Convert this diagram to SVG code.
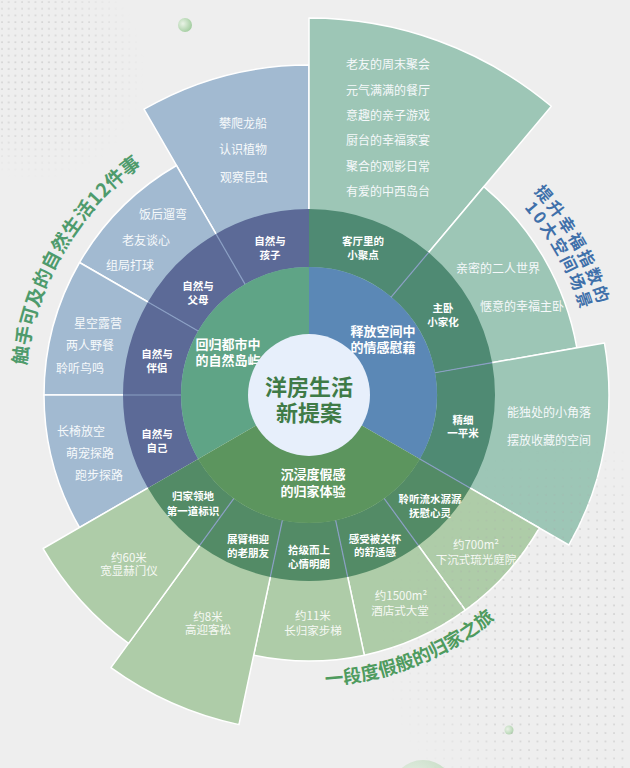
<svg xmlns="http://www.w3.org/2000/svg" width="630" height="768" viewBox="0 0 630 768">
<defs>
<style>
text{font-family:"Noto Sans CJK SC","Noto Sans",sans-serif;}
.o{font-size:12px;fill:#f6f9fb;text-anchor:middle;dominant-baseline:central;}
.ob{font-size:11.5px;fill:#f6f9f4;text-anchor:middle;dominant-baseline:central;}
.r{font-size:10.5px;font-weight:700;fill:#ffffff;text-anchor:middle;dominant-baseline:central;}
.i{font-size:13px;font-weight:700;fill:#ffffff;text-anchor:middle;dominant-baseline:central;}
.c{font-size:22px;font-weight:700;fill:#3f7b47;text-anchor:middle;dominant-baseline:central;}
.tt{font-weight:700;text-anchor:middle;}
.seg-n{fill:#a2bad1;stroke:#ffffff;stroke-width:1.5;stroke-linejoin:round;}
.seg-b{fill:#9dc6b6;stroke:#ffffff;stroke-width:1.5;stroke-linejoin:round;}
.seg-g{fill:#aecca8;stroke:#ffffff;stroke-width:1.5;stroke-linejoin:round;}
.ring-n{fill:#5c6a97;}
.ring-b{fill:#4f8a73;}
.ring-g{fill:#538b66;}
.sep{stroke:#8a9fc4;stroke-width:1.2;fill:none;}
</style>
<pattern id="dots1" width="6.7" height="6.7" patternUnits="userSpaceOnUse"><circle cx="2" cy="2" r="0.8" fill="#c4c4c4"/></pattern>
<pattern id="dots2" width="8.5" height="8.5" patternUnits="userSpaceOnUse"><circle cx="2" cy="2" r="0.9" fill="#a8a8a8"/></pattern>
<radialGradient id="fade1" cx="35" cy="70" r="110" gradientUnits="userSpaceOnUse"><stop offset="0" stop-color="#fff"/><stop offset="0.6" stop-color="#fff" stop-opacity="0.8"/><stop offset="1" stop-color="#fff" stop-opacity="0"/></radialGradient>
<radialGradient id="fade2" cx="580" cy="640" r="200" gradientUnits="userSpaceOnUse"><stop offset="0" stop-color="#fff"/><stop offset="0.6" stop-color="#fff" stop-opacity="0.8"/><stop offset="1" stop-color="#fff" stop-opacity="0"/></radialGradient>
<mask id="m1"><rect x="0" y="0" width="160" height="200" fill="url(#fade1)"/></mask>
<mask id="m2"><rect x="380" y="380" width="250" height="388" fill="url(#fade2)"/></mask>
<radialGradient id="ball" cx="0.35" cy="0.4" r="0.7"><stop offset="0" stop-color="#e9f3e6"/><stop offset="1" stop-color="#9fcb9c"/></radialGradient>
<path id="arcL" d="M26.08,419.76 A284,284 0 0 1 188.98,137.61"/>
<path id="arcR1" d="M484.53,148.02 A303,303 0 0 1 611.03,370.7"/>
<path id="arcR2" d="M476.52,164.43 A285,285 0 0 1 593.32,375.11"/>
<path id="arcB" d="M265.99,682.8 A291,291 0 0 0 536.74,576.15"/>
</defs>

<rect width="630" height="768" fill="#eeeeee"/>
<rect x="0" y="0" width="160" height="200" fill="url(#dots1)" mask="url(#m1)"/>
<circle cx="185" cy="25" r="7" fill="url(#ball)"/>
<circle cx="509" cy="730" r="4.5" fill="url(#ball)" opacity="0.8"/>
<circle cx="423" cy="792" r="32" fill="url(#ball)" opacity="0.55"/>

<!-- outer ring -->
<g id="out-kids"><path class="seg-n" d="M309,395 L144,109.21 A330,330 0 0 1 309,65 Z"/>
<text class="o" x="243" y="122">攀爬龙船</text><text class="o" x="243" y="148">认识植物</text><text class="o" x="244" y="176">观察昆虫</text></g>
<g id="out-parents"><path class="seg-n" d="M309,395 L79.51,262.5 A265,265 0 0 1 176.5,165.51 Z"/>
<text class="o" x="163" y="213">饭后遛弯</text><text class="o" x="146" y="239">老友谈心</text><text class="o" x="130" y="264">组局打球</text></g>
<g id="out-partner"><path class="seg-n" d="M309,395 L44,395 A265,265 0 0 1 79.51,262.5 Z"/>
<text class="o" x="98" y="322">星空露营</text><text class="o" x="90" y="344">两人野餐</text><text class="o" x="80" y="367">聆听鸟鸣</text></g>
<g id="out-self"><path class="seg-n" d="M309,395 L79.51,527.5 A265,265 0 0 1 44,395 Z"/>
<text class="o" x="81" y="430">长椅放空</text><text class="o" x="90" y="452">萌宠探路</text><text class="o" x="99" y="474">跑步探路</text></g>

<g id="out-living"><path class="seg-b" d="M309,395 L309,18 A377,377 0 0 1 551.34,106.22 Z"/>
<text class="o" x="388" y="63">老友的周末聚会</text><text class="o" x="388" y="89">元气满满的餐厅</text><text class="o" x="388" y="114">意趣的亲子游戏</text><text class="o" x="388" y="139">厨台的幸福家宴</text><text class="o" x="388" y="165">聚合的观影日常</text><text class="o" x="388" y="190">有爱的中西岛台</text></g>
<g id="out-bedroom"><path class="seg-b" d="M309,395 L483.84,186.65 A272,272 0 0 1 576.87,347.77 Z"/>
<text class="o" x="498" y="267">亲密的二人世界</text><text class="o" x="522" y="305">惬意的幸福主卧</text></g>
<g id="out-corner"><path class="seg-b" d="M309,395 L604.44,342.91 A300,300 0 0 1 568.81,545 Z"/>
<text class="o" x="549" y="411">能独处的小角落</text><text class="o" x="549" y="439">摆放收藏的空间</text></g>

<g id="out-water"><path class="seg-g" d="M309,395 L539.36,528 A266,266 0 0 1 465.35,610.19 Z"/>
<text class="ob" x="476" y="544">约700m²</text><text class="ob" x="476" y="559">下沉式琉光庭院</text></g>
<g id="out-care"><path class="seg-g" d="M309,395 L465.35,610.19 A266,266 0 0 1 364.3,655.17 Z"/>
<text class="ob" x="401" y="595">约1500m²</text><text class="ob" x="400" y="610">酒店式大堂</text></g>
<g id="out-stairs"><path class="seg-g" d="M309,395 L364.3,655.17 A266,266 0 0 1 253.7,655.17 Z"/>
<text class="ob" x="313" y="615">约11米</text><text class="ob" x="313" y="630">长归家步梯</text></g>
<g id="out-pine"><path class="seg-g" d="M309,395 L238.93,724.63 A337,337 0 0 1 110.91,667.63 Z"/>
<text class="ob" x="208" y="616">约8米</text><text class="ob" x="208" y="629">高迎客松</text></g>
<g id="out-gate"><path class="seg-g" d="M309,395 L128.55,643.37 A307,307 0 0 1 43.13,548.5 Z"/>
<text class="ob" x="129" y="557">约60米</text><text class="ob" x="129" y="570">宽显赫门仪</text></g>

<rect x="380" y="380" width="250" height="388" fill="url(#dots2)" mask="url(#m2)" opacity="0.6"/>

<!-- third ring -->
<g id="ring-kids"><path class="ring-n" d="M216,233.92 A186,186 0 0 1 309,209 L309,267 A128,128 0 0 0 245,284.15 Z"/>
<text class="r" x="270" y="240">自然与</text><text class="r" x="270" y="254">孩子</text></g>
<g id="ring-parents"><path class="ring-n" d="M147.92,302 A186,186 0 0 1 216,233.92 L245,284.15 A128,128 0 0 0 198.15,331 Z"/>
<text class="r" x="198" y="285">自然与</text><text class="r" x="198" y="299">父母</text></g>
<g id="ring-partner"><path class="ring-n" d="M123,395 A186,186 0 0 1 147.92,302 L198.15,331 A128,128 0 0 0 181,395 Z"/>
<text class="r" x="157" y="353">自然与</text><text class="r" x="157" y="367">伴侣</text></g>
<g id="ring-self"><path class="ring-n" d="M147.92,488 A186,186 0 0 1 123,395 L181,395 A128,128 0 0 0 198.15,459 Z"/>
<text class="r" x="157" y="433">自然与</text><text class="r" x="157" y="447">自己</text></g>

<g id="ring-living"><path class="ring-b" d="M309,209 A186,186 0 0 1 428.56,252.52 L391.28,296.95 A128,128 0 0 0 309,267 Z"/>
<text class="r" x="363" y="240">客厅里的</text><text class="r" x="363" y="254">小聚点</text></g>
<g id="ring-bedroom"><path class="ring-b" d="M428.56,252.52 A186,186 0 0 1 492.17,362.71 L435.05,372.78 A128,128 0 0 0 391.28,296.95 Z"/>
<text class="r" x="443" y="307">主卧</text><text class="r" x="443" y="321">小家化</text></g>
<g id="ring-corner"><path class="ring-b" d="M492.17,362.71 A186,186 0 0 1 470.08,488 L419.85,459 A128,128 0 0 0 435.05,372.78 Z"/>
<text class="r" x="463" y="419">精细</text><text class="r" x="463" y="432">一平米</text></g>

<g id="ring-water"><path class="ring-g" d="M470.08,488 A186,186 0 0 1 418.33,545.47 L384.24,498.55 A128,128 0 0 0 419.85,459 Z"/>
<text class="r" x="430" y="498">聆听流水潺潺</text><text class="r" x="430" y="512">抚慰心灵</text></g>
<g id="ring-care"><path class="ring-g" d="M418.33,545.47 A186,186 0 0 1 347.67,576.93 L335.61,520.2 A128,128 0 0 0 384.24,498.55 Z"/>
<text class="r" x="375" y="538">感受被关怀</text><text class="r" x="375" y="551">的舒适感</text></g>
<g id="ring-stairs"><path class="ring-g" d="M347.67,576.93 A186,186 0 0 1 270.33,576.93 L282.39,520.2 A128,128 0 0 0 335.61,520.2 Z"/>
<text class="r" x="309" y="549">拾级而上</text><text class="r" x="309" y="563">心情明朗</text></g>
<g id="ring-pine"><path class="ring-g" d="M270.33,576.93 A186,186 0 0 1 199.67,545.47 L233.76,498.55 A128,128 0 0 0 282.39,520.2 Z"/>
<text class="r" x="248" y="538">展臂相迎</text><text class="r" x="248" y="552">的老朋友</text></g>
<g id="ring-gate"><path class="ring-g" d="M199.67,545.47 A186,186 0 0 1 147.92,488 L198.15,459 A128,128 0 0 0 233.76,498.55 Z"/>
<text class="r" x="193" y="495">归家领地</text><text class="r" x="193" y="510">第一道标识</text></g>

<g id="connectors">
<line class="sep" x1="245" y1="284.15" x2="216" y2="233.92"/>
<line class="sep" x1="198.15" y1="331" x2="147.92" y2="302"/>
<line class="sep" x1="181" y1="395" x2="123" y2="395"/>
<line class="sep" x1="391.28" y1="296.95" x2="428.56" y2="252.52"/>
<line class="sep" x1="435.05" y1="372.78" x2="492.17" y2="362.71"/>
<line class="sep" x1="419.85" y1="459" x2="470.08" y2="488"/>
<line class="sep" x1="384.24" y1="498.55" x2="418.33" y2="545.47"/>
<line class="sep" x1="335.61" y1="520.2" x2="347.67" y2="576.93"/>
<line class="sep" x1="282.39" y1="520.2" x2="270.33" y2="576.93"/>
<line class="sep" x1="233.76" y1="498.55" x2="199.67" y2="545.47"/>
</g>

<!-- inner ring -->
<g id="in-nature"><path fill="#5fa486" d="M309,395 L198.15,459 A128,128 0 0 1 309,267 Z"/>
<text class="i" x="228" y="343">回归都市中</text><text class="i" x="228" y="359">的自然岛屿</text></g>
<g id="in-space"><path fill="#5b88b6" d="M309,395 L309,267 A128,128 0 0 1 419.85,459 Z"/>
<text class="i" x="383" y="330">释放空间中</text><text class="i" x="383" y="346">的情感慰藉</text></g>
<g id="in-home"><path fill="#5c955e" d="M309,395 L419.85,459 A128,128 0 0 1 198.15,459 Z"/>
<text class="i" x="313" y="473">沉浸度假感</text><text class="i" x="313" y="490">的归家体验</text></g>

<g id="center"><circle cx="309" cy="395" r="61" fill="#e7effb"/>
<text class="c" x="309" y="385">洋房生活</text><text class="c" x="309" y="411">新提案</text></g>

<g id="titles">
<text class="tt" font-size="19" fill="#4e9b6c" letter-spacing="0.5"><textPath href="#arcL" startOffset="50%">触手可及的自然生活12件事</textPath></text>
<text class="tt" font-size="16.5" fill="#3f70aa" letter-spacing="2.5"><textPath href="#arcR1" startOffset="50%">提升幸福指数的</textPath></text>
<text class="tt" font-size="16.5" fill="#3f70aa" letter-spacing="2.5"><textPath href="#arcR2" startOffset="50%">10大空间场景</textPath></text>
<text class="tt" font-size="18.5" fill="#4e9b5e"><textPath href="#arcB" startOffset="50%">一段度假般的归家之旅</textPath></text>
</g>
</svg>
